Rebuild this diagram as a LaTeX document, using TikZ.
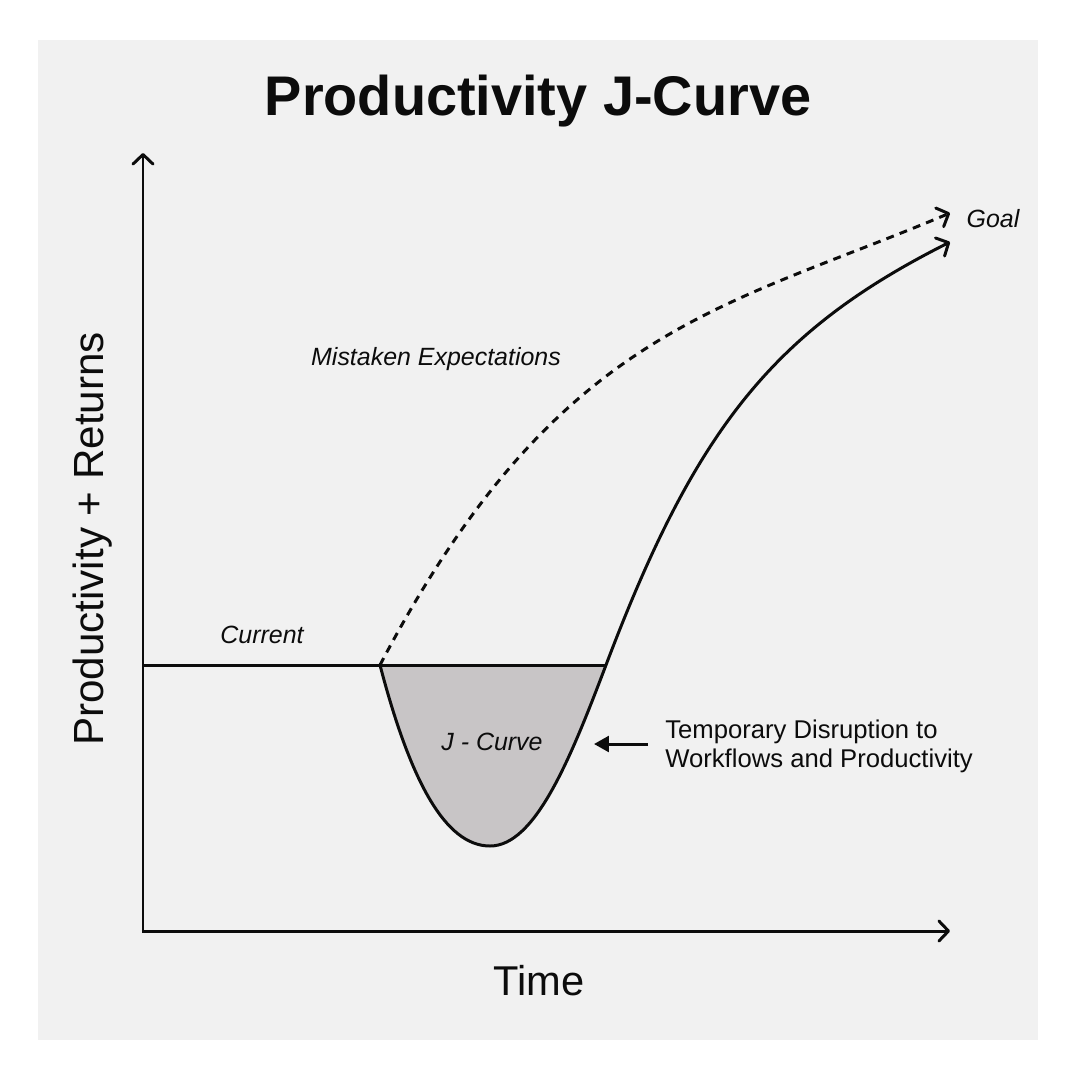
\documentclass[tikz,border=0pt]{standalone}
\usepackage{fontspec}
\setmainfont{Liberation Sans}
\usetikzlibrary{arrows.meta}
\definecolor{panel}{RGB}{241,241,241}
\definecolor{jfill}{RGB}{200,197,198}
\definecolor{ink}{RGB}{12,12,12}
\begin{document}
\begin{tikzpicture}[x=0.02cm,y=-0.02cm,
  line/.style={line width=1.7pt, draw=ink},
  barb/.tip={Straight Barb[length=5.5pt,width=11.5pt,round]},
  openarrow/.style={-barb},
  dashline/.style={dash pattern=on 4.5pt off 3.6pt},
  itl/.style={font=\fontsize{14.2}{17}\selectfont\itshape, text=ink, inner sep=0pt, anchor=base},
  plain/.style={font=\fontsize{14.6}{16.4}\selectfont, text=ink, inner sep=0pt, align=left},
]
\useasboundingbox (0,0) rectangle (1080,1080);
\fill[white] (0,0) rectangle (1080,1080);
\fill[panel] (38,40) rectangle (1038,1040);

% key points
\coordinate (O) at (143,931);
\coordinate (ytop) at (143,153);
\coordinate (xend) at (950,931);
\coordinate (cur) at (143,665);
\coordinate (jl) at (380,665);
\coordinate (jr) at (606,665);
\coordinate (jmin) at (490,846);
\coordinate (tip) at (950,242);
\coordinate (dtip) at (950,213);
\coordinate (astart) at (648,744);
\coordinate (aend) at (594,744);

% J-curve fill
\fill[jfill] (jl) .. controls (410,780) and (445,846) .. (jmin)
  .. controls (535,846) and (570,760) .. (jr) -- cycle;

% current level
\draw[line] (cur) -- (jr);

% axes
\draw[line, barb-barb] (ytop) -- (O) -- (xend);

% actual J-curve
\draw[line, openarrow] (jl) .. controls (410,780) and (445,846) .. (jmin)
  .. controls (535,846) and (570,760) .. (jr)
  .. controls (696,427) and (775,330) .. (tip);

% mistaken expectations
\draw[line, dashline, openarrow] (jl) .. controls (557,328) and (720,310) .. (dtip);

% disruption arrow
\draw[line, -{Triangle[length=8.5pt,width=9pt]}] (astart) -- (aend);

% labels
\node[font=\fontsize{31.8}{38}\selectfont\bfseries, text=ink, inner sep=0pt, anchor=base] (title) at (538,115) {Productivity J-Curve};
\node[font=\fontsize{24}{28}\selectfont, text=ink, inner sep=0pt, anchor=base, rotate=90] (ylabel) at (103,539) {Productivity + Returns};
\node[font=\fontsize{23.7}{28}\selectfont, text=ink, inner sep=0pt, anchor=base] (xlabel) at (539,995) {Time};
\node[itl] (mistaken) at (436,365) {Mistaken Expectations};
\node[itl] (current) at (262,643) {Current};
\node[itl] (goal) at (993,227) {Goal};
\node[itl] (jlabel) at (492,750) {J - Curve};
\node[plain, anchor=base west] (disruption) at (665,767) {Temporary Disruption to\\Workflows and Productivity};
\end{tikzpicture}
\end{document}
